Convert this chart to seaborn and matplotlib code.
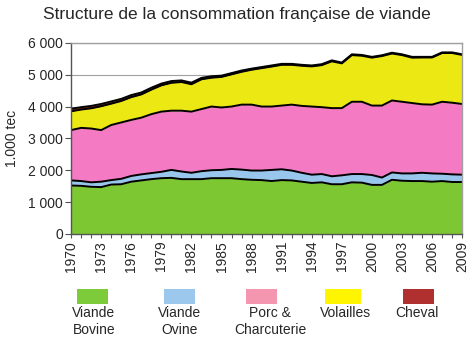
import numpy as np
import pandas as pd
import matplotlib
matplotlib.use("Agg")
import matplotlib.pyplot as plt
from matplotlib.patches import Rectangle
import seaborn as sns

years = list(range(1970, 2010))
bovine = [1520, 1510, 1480, 1470, 1550, 1560, 1640, 1680, 1720, 1750,
          1760, 1720, 1720, 1720, 1750, 1750, 1750, 1720, 1700, 1690,
          1660, 1690, 1680, 1640, 1600, 1620, 1560, 1560, 1620, 1610,
          1540, 1540, 1700, 1670, 1660, 1660, 1640, 1660, 1630, 1630]
ovine = [160, 150, 140, 170, 140, 170, 180, 190, 190, 200,
         250, 240, 200, 250, 250, 260, 290, 300, 290, 300,
         350, 340, 310, 280, 260, 260, 250, 280, 260, 270,
         310, 230, 230, 230, 240, 260, 260, 230, 240, 230]
porc = [1580, 1670, 1690, 1620, 1730, 1770, 1760, 1780, 1850, 1890,
        1860, 1910, 1920, 1950, 2000, 1960, 1960, 2040, 2070, 2010,
        1990, 2000, 2070, 2100, 2140, 2100, 2140, 2110, 2270, 2270,
        2180, 2260, 2260, 2250, 2210, 2150, 2160, 2260, 2250, 2220]
volailles = [590, 575, 635, 750, 670, 675, 715, 730, 770, 825,
             875, 900, 860, 935, 905, 960, 1010, 1030, 1095, 1205,
             1255, 1280, 1250, 1260, 1260, 1320, 1470, 1405, 1465, 1445,
             1505, 1555, 1475, 1465, 1425, 1470, 1480, 1530, 1560, 1540]
cheval = [80, 75, 75, 70, 70, 65, 65, 60, 60, 55,
          55, 50, 50, 45, 45, 40, 40, 40, 35, 35,
          35, 30, 30, 30, 30, 30, 30, 25, 25, 25,
          25, 25, 25, 25, 25, 20, 20, 20, 20, 20]

series_names = ["Viande\nBovine", "Viande\nOvine", "Porc &\nCharcuterie", "Volailles", "Cheval"]
area_colors = ["#7DC832", "#99C6EC", "#F47AC4", "#ECE814", "#8E1B1E"]
legend_colors = ["#7DCB3A", "#9CC8EE", "#F596B0", "#FFF500", "#B03030"]
ytick_vals = [0, 1000, 2000, 3000, 4000, 5000, 6000]
ytick_labels = ["0", "1 000", "2 000", "3 000", "4 000", "5 000", "6 000"]
xtick_years = list(range(1970, 2010, 3))

sns.set_theme(style="white")
plt.rcParams["font.family"] = ["Liberation Sans", "DejaVu Sans"]

fig = plt.figure(figsize=(4.74, 3.40), dpi=100)
ax = fig.add_axes([0.150, 0.312, 0.825, 0.562])

layers = [bovine, ovine, porc, volailles, cheval]
ax.stackplot(years, *layers, colors=area_colors, linewidth=0)

cum = np.cumsum(np.array(layers), axis=0)
df = pd.DataFrame({"year": np.tile(years, len(layers)),
                   "value": cum.ravel(),
                   "layer": np.repeat(range(len(layers)), len(years))})
sns.lineplot(data=df, x="year", y="value", units="layer", estimator=None,
             color="black", linewidth=1.4, ax=ax, legend=False)

ax.set_xlim(1970, 2009)
ax.set_ylim(0, 6000)
ax.set_yticks(ytick_vals)
ax.set_yticklabels(ytick_labels, fontsize=10)
ax.set_xticks(xtick_years)
ax.set_xticks(years, minor=True)
ax.set_xticklabels([str(y) for y in xtick_years], rotation=90, fontsize=10)
ax.set_xlabel("")
ax.set_ylabel("1.000 tec", fontsize=10, labelpad=6)
ax.yaxis.grid(True, color="#A0A0A0", linewidth=0.8)
ax.set_axisbelow(True)
ax.tick_params(axis="y", which="major", direction="out", length=4, width=0.8,
               color="#555555", left=True, pad=2)
ax.tick_params(axis="x", which="both", direction="out", length=3, width=0.8,
               color="#555555", bottom=True, pad=2)
for side in ["left", "bottom"]:
    ax.spines[side].set_color("#555555")
    ax.spines[side].set_linewidth(1.0)
for side in ["top", "right"]:
    ax.spines[side].set_color("#A0A0A0")
    ax.spines[side].set_linewidth(1.0)

fig.text(0.5, 0.957, "Structure de la consommation française de viande",
         ha="center", va="center", fontsize=12.5)

W, H = 474.0, 340.0
box_left = [77, 164, 246, 325, 403]
box_w = [31, 31, 31, 36, 31]
text_cx = [94, 180, 270, 346, 417]
for i, name in enumerate(series_names):
    fig.add_artist(Rectangle((box_left[i] / W, 1 - 304 / H), box_w[i] / W, 15 / H,
                             transform=fig.transFigure, facecolor=legend_colors[i],
                             edgecolor="none"))
    fig.text(text_cx[i] / W, 1 - 306 / H, name, ha="center", va="top",
             fontsize=10, linespacing=1.25)

fig.savefig("out.png", dpi=100)
